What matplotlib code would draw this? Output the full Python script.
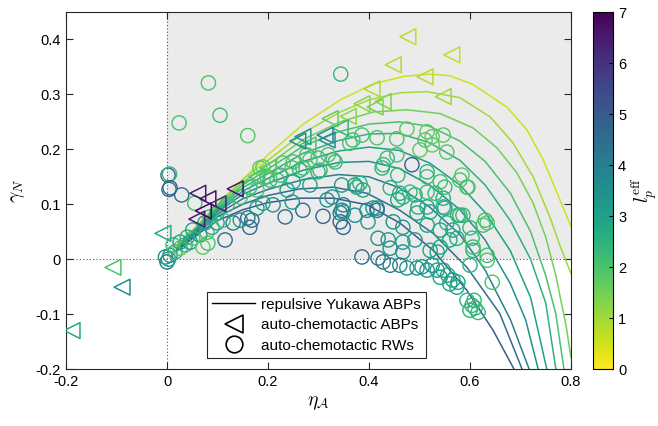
import numpy as np
import matplotlib
matplotlib.use("Agg")
import matplotlib.pyplot as plt
from matplotlib.colors import Normalize
from matplotlib.cm import ScalarMappable
from matplotlib.lines import Line2D

plt.rcParams['font.family'] = ['Liberation Sans', 'DejaVu Sans']
plt.rcParams['mathtext.fontset'] = 'cm'

# theory curves (repulsive Yukawa ABPs), one per persistence length
curve_lp = [0.5, 1.0, 1.5, 2.0, 2.5, 3.0, 3.5, 4.0, 4.5, 5.0]
curve_x = [
    [0.02, 0.06, 0.12, 0.20, 0.27, 0.343, 0.408, 0.47, 0.52, 0.56, 0.606, 0.673, 0.713, 0.745, 0.778, 0.80],
    [0.02, 0.06, 0.10, 0.15, 0.20, 0.27, 0.343, 0.40, 0.461, 0.515, 0.58, 0.64, 0.685, 0.725, 0.758, 0.78, 0.80],
    [0.02, 0.06, 0.10, 0.15, 0.20, 0.27, 0.343, 0.408, 0.475, 0.541, 0.606, 0.653, 0.693, 0.725, 0.75, 0.77, 0.79, 0.80],
    [0.02, 0.06, 0.10, 0.15, 0.20, 0.27, 0.34, 0.40, 0.46, 0.52, 0.58, 0.63, 0.68, 0.72, 0.75, 0.77, 0.786],
    [0.02, 0.06, 0.10, 0.15, 0.20, 0.27, 0.34, 0.40, 0.46, 0.52, 0.58, 0.63, 0.68, 0.72, 0.75, 0.77],
    [0.02, 0.06, 0.10, 0.15, 0.20, 0.27, 0.34, 0.40, 0.46, 0.52, 0.58, 0.63, 0.68, 0.72, 0.752],
    [0.02, 0.06, 0.10, 0.15, 0.20, 0.27, 0.34, 0.40, 0.46, 0.52, 0.58, 0.63, 0.68, 0.71, 0.735],
    [0.02, 0.06, 0.10, 0.15, 0.20, 0.27, 0.34, 0.40, 0.46, 0.52, 0.58, 0.63, 0.68, 0.717],
    [0.02, 0.06, 0.10, 0.15, 0.20, 0.263, 0.33, 0.396, 0.461, 0.527, 0.594, 0.659, 0.703],
    [0.02, 0.06, 0.10, 0.15, 0.20, 0.263, 0.33, 0.396, 0.461, 0.527, 0.594, 0.646, 0.687],
]
curve_y = [
    [0.023, 0.062, 0.118, 0.19, 0.246, 0.290, 0.319, 0.333, 0.337, 0.334, 0.318, 0.277, 0.235, 0.181, 0.108, 0.06],
    [0.022, 0.061, 0.10, 0.145, 0.18, 0.23, 0.268, 0.29, 0.303, 0.305, 0.294, 0.259, 0.212, 0.150, 0.077, 0.02, -0.026],
    [0.021, 0.06, 0.098, 0.14, 0.172, 0.218, 0.25, 0.268, 0.272, 0.265, 0.239, 0.203, 0.157, 0.102, 0.04, -0.03, -0.12, -0.179],
    [0.02, 0.058, 0.095, 0.135, 0.164, 0.206, 0.232, 0.246, 0.25, 0.242, 0.215, 0.178, 0.12, 0.05, -0.03, -0.10, -0.20],
    [0.02, 0.056, 0.092, 0.13, 0.156, 0.193, 0.216, 0.228, 0.229, 0.212, 0.18, 0.135, 0.07, 0.0, -0.08, -0.20],
    [0.019, 0.054, 0.089, 0.124, 0.147, 0.178, 0.197, 0.204, 0.198, 0.175, 0.135, 0.085, 0.015, -0.07, -0.20],
    [0.018, 0.052, 0.086, 0.118, 0.138, 0.162, 0.176, 0.178, 0.165, 0.135, 0.09, 0.035, -0.045, -0.11, -0.20],
    [0.017, 0.05, 0.082, 0.11, 0.127, 0.145, 0.154, 0.15, 0.13, 0.095, 0.045, -0.02, -0.11, -0.20],
    [0.016, 0.048, 0.077, 0.10, 0.116, 0.128, 0.131, 0.120, 0.089, 0.047, -0.015, -0.099, -0.20],
    [0.015, 0.045, 0.07, 0.09, 0.103, 0.111, 0.111, 0.099, 0.066, 0.016, -0.057, -0.130, -0.20],
]

# auto-chemotactic ABPs
abp_x = [-0.188, -0.107, -0.089, -0.008, 0.061, 0.081, 0.101, 0.135, 0.059, 0.072,
         0.477, 0.564, 0.448, 0.511, 0.406, 0.547, 0.386, 0.428, 0.412, 0.359,
         0.323, 0.343, 0.313, 0.317, 0.269, 0.279, 0.259, 0.200, 0.178]
abp_y = [-0.130, -0.015, -0.051, 0.047, 0.120, 0.110, 0.101, 0.128, 0.073, 0.088,
         0.405, 0.372, 0.354, 0.332, 0.310, 0.296, 0.283, 0.287, 0.277, 0.260,
         0.256, 0.239, 0.226, 0.217, 0.223, 0.208, 0.215, 0.166, 0.150]
abp_lp = [2.8, 2.0, 3.5, 2.6, 6.5, 6.7, 6.3, 6.6, 6.4, 6.9,
          0.7, 0.7, 0.8, 0.8, 0.9, 1.0, 1.2, 1.3, 1.4, 1.2,
          1.6, 2.3, 3.8, 3.6, 3.2, 2.0, 3.5, 1.8, 2.0]

# auto-chemotactic random walkers
rw_x = [0.082, 0.105, 0.024, 0.160, 0.344, 0.002, 0.005, 0.006, 0.004, 0.029,
        -0.003, 0.006, 0.000, 0.003, 0.016, 0.026, 0.036, 0.046, 0.051, 0.065,
        0.079, 0.089, 0.099, 0.111, 0.071, 0.081, 0.115, 0.168, 0.164, 0.145,
        0.131, 0.160, 0.012, 0.026, 0.040, 0.051, 0.075, 0.085, 0.099, 0.119,
        0.145, 0.055, 0.164, 0.178, 0.184, 0.198, 0.218, 0.178, 0.190, 0.210,
        0.234, 0.269, 0.309, 0.343, 0.349, 0.346, 0.327, 0.329, 0.303, 0.277,
        0.250, 0.263, 0.230, 0.368, 0.362, 0.386, 0.416, 0.455, 0.475, 0.515,
        0.525, 0.547, 0.511, 0.501, 0.525, 0.554, 0.455, 0.428, 0.426, 0.457,
        0.485, 0.515, 0.541, 0.584, 0.580, 0.596, 0.442, 0.467, 0.457, 0.515,
        0.547, 0.550, 0.497, 0.576, 0.630, 0.372, 0.388, 0.408, 0.346, 0.349,
        0.372, 0.436, 0.515, 0.319, 0.299, 0.333, 0.299, 0.269, 0.283, 0.248,
        0.224, 0.190, 0.204, 0.376, 0.283, 0.250, 0.238, 0.248, 0.317, 0.343,
        0.416, 0.491, 0.515, 0.382, 0.349, 0.396, 0.416, 0.398, 0.461, 0.448,
        0.467, 0.418, 0.438, 0.467, 0.491, 0.442, 0.467, 0.386, 0.418, 0.428,
        0.442, 0.461, 0.475, 0.495, 0.505, 0.515, 0.525, 0.535, 0.547, 0.541,
        0.556, 0.566, 0.576, 0.574, 0.560, 0.521, 0.535, 0.541, 0.560, 0.554,
        0.566, 0.574, 0.541, 0.515, 0.495, 0.521, 0.531, 0.550, 0.586, 0.600,
        0.604, 0.606, 0.626, 0.634, 0.634, 0.644, 0.594, 0.604, 0.610, 0.616,
        0.600, 0.608, 0.600, 0.634, 0.606, 0.481, 0.594, 0.547, 0.580]
rw_y = [0.321, 0.262, 0.248, 0.225, 0.337, 0.153, 0.155, 0.130, 0.127, 0.117,
        0.004, 0.007, -0.005, 0.000, 0.013, 0.020, 0.026, 0.031, 0.038, 0.044,
        0.049, 0.058, 0.066, 0.071, 0.022, 0.029, 0.035, 0.071, 0.058, 0.071,
        0.066, 0.075, 0.026, 0.031, 0.040, 0.053, 0.066, 0.077, 0.084, 0.099,
        0.113, 0.102, 0.131, 0.126, 0.166, 0.150, 0.144, 0.093, 0.102, 0.099,
        0.077, 0.089, 0.078, 0.068, 0.058, 0.089, 0.113, 0.181, 0.162, 0.190,
        0.177, 0.162, 0.175, 0.217, 0.211, 0.226, 0.221, 0.219, 0.237, 0.232,
        0.223, 0.226, 0.217, 0.199, 0.208, 0.195, 0.190, 0.172, 0.166, 0.153,
        0.172, 0.150, 0.141, 0.153, 0.144, 0.131, 0.130, 0.113, 0.108, 0.122,
        0.111, 0.093, 0.095, 0.080, 0.071, 0.135, 0.126, 0.093, 0.135, 0.099,
        0.080, 0.184, 0.159, 0.190, 0.184, 0.177, 0.159, 0.166, 0.181, 0.166,
        0.153, 0.168, 0.144, 0.131, 0.135, 0.141, 0.126, 0.104, 0.108, 0.084,
        0.093, 0.117, 0.095, 0.138, 0.086, 0.089, 0.089, 0.068, 0.120, 0.068,
        0.058, 0.038, 0.035, 0.031, 0.035, 0.020, 0.013, 0.004, 0.002, -0.005,
        -0.011, -0.011, -0.016, -0.016, -0.014, -0.020, -0.011, -0.020, -0.020, -0.033,
        -0.029, -0.038, -0.042, -0.051, -0.045, 0.016, 0.013, 0.022, 0.035, 0.066,
        0.053, 0.038, 0.053, 0.062, 0.084, 0.086, 0.120, 0.131, 0.080, 0.057,
        0.038, 0.016, 0.062, 0.066, -0.002, -0.042, -0.075, -0.084, -0.089, -0.097,
        -0.093, -0.075, -0.011, 0.007, 0.022, 0.122, 0.131, 0.095, 0.080]
rw_lp = [2.0, 2.2, 2.0, 1.9, 2.3, 4.8, 2.3, 4.8, 4.5, 4.6,
         3.6, 3.4, 4.2, 3.0, 2.5, 1.8, 2.3, 3.2, 2.0, 3.5,
         2.0, 2.6, 3.0, 2.1, 1.7, 2.0, 4.6, 4.5, 4.7, 3.3,
         4.0, 4.4, 2.2, 3.0, 2.5, 2.8, 3.1, 2.4, 2.7, 2.2,
         2.0, 2.1, 2.2, 1.9, 1.8, 2.0, 2.1, 3.3, 3.0, 3.5,
         4.6, 4.5, 4.7, 4.8, 4.8, 3.8, 3.4, 2.2, 2.3, 1.9,
         2.0, 2.4, 1.8, 2.2, 2.0, 2.1, 2.0, 2.0, 1.8, 1.7,
         1.7, 1.8, 1.9, 1.8, 1.7, 1.9, 2.1, 2.3, 2.5, 2.3,
         4.9, 2.2, 2.1, 1.8, 2.0, 1.9, 2.6, 2.5, 2.8, 2.3,
         2.6, 2.9, 2.7, 2.4, 2.1, 3.0, 2.9, 3.5, 3.2, 4.0,
         3.6, 2.3, 2.4, 2.0, 2.1, 2.3, 2.5, 2.2, 2.0, 2.1,
         2.3, 1.7, 2.2, 2.8, 3.1, 2.8, 3.0, 3.3, 3.6, 3.9,
         3.6, 2.6, 2.8, 2.5, 3.5, 3.5, 4.4, 3.4, 2.7, 3.5,
         3.3, 3.6, 3.3, 3.1, 3.3, 3.5, 3.4, 4.6, 4.3, 4.4,
         4.0, 3.8, 3.5, 3.4, 3.3, 3.3, 3.2, 3.1, 3.0, 3.0,
         2.9, 2.9, 2.8, 2.9, 3.1, 3.0, 2.9, 3.0, 2.8, 2.6,
         2.8, 2.7, 2.9, 3.0, 2.9, 2.8, 2.3, 2.2, 2.5, 2.4,
         2.3, 2.4, 2.0, 1.9, 2.0, 2.0, 2.5, 2.4, 2.4, 2.3,
         2.5, 2.4, 2.5, 2.1, 2.2, 2.3, 2.0, 2.6, 2.4]

cmap = plt.get_cmap('viridis_r')
norm = Normalize(vmin=0, vmax=7)

fig = plt.figure(figsize=(6.58, 4.26), dpi=100)
ax = fig.add_axes([0.1003, 0.1338, 0.7675, 0.838])

# shaded first quadrant and dotted zero lines
ax.fill_between([0, 0.8], 0, 0.45, color='#ebebeb', lw=0, zorder=0)
ax.axhline(0, color='#555555', ls=(0, (1, 2)), lw=0.8, zorder=1)
ax.axvline(0, color='#555555', ls=(0, (1, 2)), lw=0.8, zorder=1)

for lp, cx, cy in zip(curve_lp, curve_x, curve_y):
    ax.plot(cx, cy, color=cmap(norm(lp)), lw=1.1, zorder=2)

ax.scatter(rw_x, rw_y, s=105, marker='o', facecolors='none',
           edgecolors=cmap(norm(np.array(rw_lp))), linewidths=1.0, zorder=3)
ax.scatter(abp_x, abp_y, s=130, marker='<', facecolors='none',
           edgecolors=cmap(norm(np.array(abp_lp))), linewidths=1.1, zorder=4)

ax.set_xlim(-0.2, 0.8)
ax.set_ylim(-0.2, 0.45)
ax.set_xticks([-0.2, 0, 0.2, 0.4, 0.6, 0.8])
ax.set_xticklabels(['-0.2', '0', '0.2', '0.4', '0.6', '0.8'])
ax.set_yticks([-0.2, -0.1, 0, 0.1, 0.2, 0.3, 0.4])
ax.set_yticklabels(['-0.2', '-0.1', '0', '0.1', '0.2', '0.3', '0.4'])
ax.tick_params(direction='in', top=True, right=True, labelsize=10.5,
               length=5, width=0.8, color='#262626', pad=4)
for sp in ax.spines.values():
    sp.set_linewidth(0.8)
    sp.set_color('#262626')
ax.set_xlabel(r'$\eta_\mathcal{A}$', fontsize=14, labelpad=4)
ax.set_ylabel(r'$\gamma_N$', fontsize=14, labelpad=6)

handles = [
    Line2D([], [], color='black', lw=1.0),
    Line2D([], [], color='black', marker='<', ls='none', markersize=13,
           markerfacecolor='none', markeredgewidth=1.2),
    Line2D([], [], color='black', marker='o', ls='none', markersize=12,
           markerfacecolor='none', markeredgewidth=1.2),
]
labels = ['repulsive Yukawa ABPs', 'auto-chemotactic ABPs', 'auto-chemotactic RWs']
leg = ax.legend(handles, labels, loc='lower left', bbox_to_anchor=(0.279, 0.031),
                borderaxespad=0, fontsize=11, frameon=True, fancybox=False,
                edgecolor='#262626', framealpha=1, handlelength=2.8,
                borderpad=0.35, labelspacing=0.42, handletextpad=0.4)
leg.get_frame().set_linewidth(0.8)

cax = fig.add_axes([0.901, 0.1338, 0.031, 0.838])
cb = fig.colorbar(ScalarMappable(norm=norm, cmap=cmap), cax=cax)
cb.set_ticks(range(8))
cb.ax.tick_params(labelsize=10.5, direction='in', length=3, width=0.8)
cb.outline.set_linewidth(0.8)
cb.set_label(r'$l_p^{\rm eff}$', fontsize=14, labelpad=2)

fig.savefig('out.png', dpi=100)
